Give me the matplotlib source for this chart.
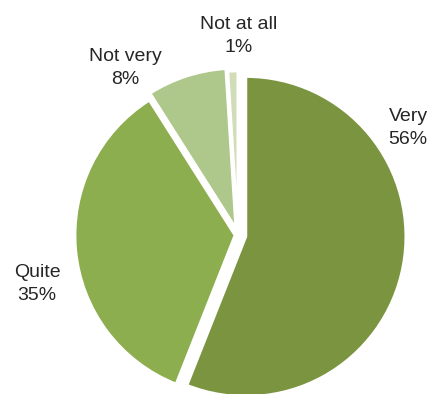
import matplotlib
matplotlib.use("Agg")
import matplotlib.pyplot as plt

categories = ["Very", "Quite", "Not very", "Not at all"]
values = [56, 35, 8, 1]
colors = ["#7A9440", "#8DAE4E", "#AEC78A", "#D0DDB8"]
explode_px = [8, 3, 7, 4]
label_pos = [(408, 128), (37, 284), (125, 68), (239, 36)]

W, H = 433, 394
fig = plt.figure(figsize=(W / 100, H / 100), dpi=100)
ax = fig.add_axes([0, 0, 1, 1])

cx, cy = 238, H - 235
ax.pie(values, colors=colors, explode=explode_px, startangle=90, counterclock=False,
       center=(cx, cy), radius=160, frame=True,
       wedgeprops=dict(edgecolor="white", linewidth=2))
ax.set_xlim(0, W)
ax.set_ylim(0, H)
ax.set_aspect("equal")
ax.axis("off")

for cat, v, (x, y) in zip(categories, values, label_pos):
    ax.text(x, H - y, f"{cat}\n{v}%", ha="center", va="center", multialignment="center",
            fontsize=14, family="Liberation Sans", color="#262626", linespacing=1.4)

fig.savefig("out.png", dpi=100, facecolor="white")
